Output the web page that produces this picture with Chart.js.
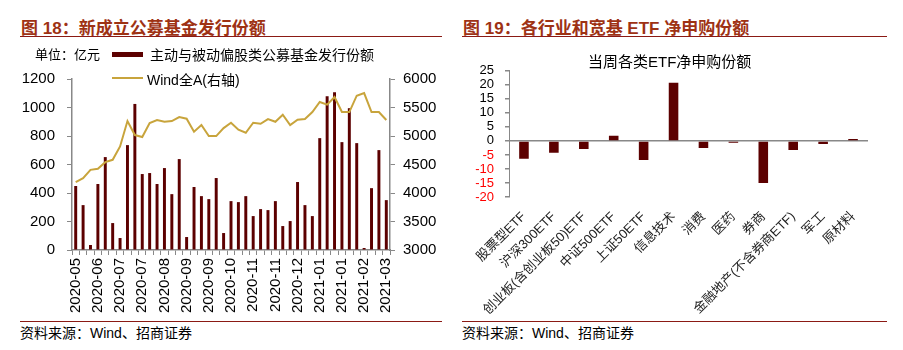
<!DOCTYPE html>
<html>
<head>
<meta charset="utf-8">
<script src="https://cdn.jsdelivr.net/npm/chart.js@4/dist/chart.umd.min.js"></script>
<style>
  body { margin: 0; width: 903px; height: 350px; background: #fff; position: relative; overflow: hidden;
         font-family: "Liberation Sans", "Noto Sans CJK SC", sans-serif; color: #000; }
  .title { position: absolute; top: 14px; font-size: 17px; font-weight: bold; color: #9E3214;
           font-family: "Liberation Sans", "Noto Sans CJK SC", sans-serif; white-space: nowrap; }
  .rule { position: absolute; height: 1px; background: #8B1A14; }
  .source { position: absolute; top: 322px; font-size: 14px; white-space: nowrap; }
  .legend { position: absolute; font-size: 14px; white-space: nowrap; }
  .swatch-bar { position: absolute; width: 31px; height: 5px; background: #5C0000; }
  .swatch-line { position: absolute; width: 31px; height: 2px; background: #C8A43C; }
  canvas { position: absolute; }
</style>
</head>
<body>
<canvas id="fund-chart" width="450" height="262" style="left:0; top:58px"></canvas>
<canvas id="etf-chart" width="440" height="268" style="left:450px; top:52px"></canvas>

<div class="title" style="left:21px">图 18：新成立公募基金发行份额</div>
<div class="rule" style="left:20px; top:36px; width:422px"></div>
<div class="legend" style="left:35px; top:44px; font-size:13px">单位：亿元</div>
<div class="swatch-bar" style="left:112px; top:52px"></div>
<div class="legend" style="left:150px; top:44px">主动与被动偏股类公募基金发行份额</div>
<div class="swatch-line" style="left:112px; top:77px"></div>
<div class="legend" style="left:147px; top:69px">Wind全A(右轴)</div>
<div class="rule" style="left:20px; top:321px; width:422px"></div>
<div class="source" style="left:20px">资料来源：Wind、招商证券</div>

<div class="title" style="left:463px">图 19：各行业和宽基 ETF 净申购份额</div>
<div class="rule" style="left:462px; top:36px; width:425px"></div>
<div class="legend" style="left:588px; top:50px; font-size:15px">当周各类ETF净申购份额</div>
<div class="rule" style="left:462px; top:321px; width:425px"></div>
<div class="source" style="left:462px">资料来源：Wind、招商证券</div>

<script>
// weekly, labelled by month (every 3rd shown on the axis)
const weeks = [
  '2020-05', '2020-05', '2020-06', '2020-06', '2020-06', '2020-06',
  '2020-07', '2020-07', '2020-07', '2020-07', '2020-07',
  '2020-08', '2020-08', '2020-08', '2020-08',
  '2020-09', '2020-09', '2020-09', '2020-09',
  '2020-10', '2020-10', '2020-10', '2020-10', '2020-10',
  '2020-11', '2020-11', '2020-11', '2020-11',
  '2020-12', '2020-12', '2020-12', '2020-12',
  '2021-01', '2021-01', '2021-01', '2021-01', '2021-01',
  '2021-02', '2021-02', '2021-02', '2021-02',
  '2021-03', '2021-03'
];

const fundIssue = [
  449, 315, 35, 463, 652, 189, 84, 736, 1025, 533, 540,
  463, 575, 392, 638, 91, 442, 378, 357, 505, 119, 343,
  336, 378, 238, 287, 280, 343, 168, 203, 477, 315, 238,
  785, 1079, 1107, 757, 995, 750, 14, 434, 701, 350
];

const windA = [
  4190, 4260, 4406, 4424, 4541, 4582, 4817, 5262, 5016, 4981, 5227,
  5280, 5250, 5262, 5332, 5303, 5074, 5192, 4998, 4998, 5139, 5233,
  5110, 5057, 5233, 5215, 5297, 5250, 5373, 5192, 5285, 5297, 5420,
  5596, 5549, 5684, 5420, 5420, 5707, 5754, 5420, 5420, 5280
];

const etfNames = [
  '股票型ETF', '沪深300ETF', '创业板(含创业板50)ETF', '中证500ETF', '上证50ETF',
  '信息技术', '消费', '医药', '券商', '金融地产(不含券商ETF)', '军工', '原材料'
];

const etfNetBuy = [-6.4, -4.2, -2.9, 1.8, -6.8, 20.7, -2.5, -0.7, -15.0, -3.2, -1.1, 0.7];

const BAR = '#5C0000';
const GOLD = '#C8A43C';
const AXIS = '#888888';
const NUM_FONT = '"Liberation Sans", "Noto Sans CJK SC", sans-serif';

Chart.defaults.color = '#000';
Chart.defaults.font.family = NUM_FONT;
Chart.defaults.animation = false;

const plain = v => String(v);

function renderFundChart() {
  new Chart(document.getElementById('fund-chart'), {
    type: 'bar',
    data: {
      labels: weeks,
      datasets: [{
        type: 'line',
        label: 'Wind全A(右轴)',
        data: windA,
        yAxisID: 'y1',
        borderColor: GOLD,
        borderWidth: 2,
        pointRadius: 0,
        tension: 0,
        order: 0
      }, {
        label: '主动与被动偏股类公募基金发行份额',
        data: fundIssue,
        yAxisID: 'y',
        backgroundColor: BAR,
        categoryPercentage: 1,
        barPercentage: 0.4,
        order: 1
      }]
    },
    options: {
      responsive: false,
      layout: { padding: 0 },
      plugins: { legend: { display: false }, tooltip: { enabled: false } },
      scales: {
        x: {
          grid: { color: 'transparent', tickColor: AXIS, tickLength: 5, drawOnChartArea: false },
          border: { color: AXIS, width: 1.5 },
          ticks: {
            autoSkip: false, minRotation: 90, maxRotation: 90, padding: 3,
            font: { size: 15 },
            callback: (v, i) => i % 3 === 0 ? weeks[i] : ''
          },
          afterFit: s => { s.height = 70; }
        },
        y: {
          position: 'left', min: 0, max: 1200,
          grid: { color: 'transparent', tickColor: AXIS, tickLength: 5, drawOnChartArea: false },
          border: { color: AXIS, width: 1.5 },
          ticks: { stepSize: 200, autoSkip: false, padding: 12, font: { size: 15 }, callback: plain },
          afterFit: s => { s.width = 72; }
        },
        y1: {
          position: 'right', min: 3000, max: 6000,
          grid: { color: 'transparent', tickColor: AXIS, tickLength: 5, drawOnChartArea: false },
          border: { color: AXIS, width: 1.5 },
          ticks: { stepSize: 500, autoSkip: false, padding: 8, font: { size: 15 }, callback: plain },
          afterFit: s => { s.width = 60; }
        }
      }
    }
  });
}

function renderEtfChart() {
  new Chart(document.getElementById('etf-chart'), {
    type: 'bar',
    data: {
      labels: etfNames,
      datasets: [{
        label: '当周各类ETF净申购份额',
        data: etfNetBuy,
        backgroundColor: BAR,
        categoryPercentage: 1,
        barPercentage: 0.32
      }]
    },
    options: {
      responsive: false,
      layout: { padding: { top: 0, left: 0, right: 22, bottom: 0 } },
      plugins: { legend: { display: false }, tooltip: { enabled: false } },
      scales: {
        x: {
          grid: { display: false },
          border: { display: false },
          ticks: {
            autoSkip: false, minRotation: 45, maxRotation: 45, padding: 4,
            font: { size: 13 }, color: '#222'
          },
          afterFit: s => { s.height = 123; }
        },
        y: {
          min: -20, max: 25,
          grid: {
            color: c => c.tick && c.tick.value === 0 ? AXIS : 'transparent',
            lineWidth: 1.5,
            tickColor: AXIS, tickLength: 4
          },
          border: { color: AXIS, width: 1 },
          ticks: {
            stepSize: 5, autoSkip: false, padding: 11, font: { size: 13 },
            color: c => c.tick.value < 0 ? '#FF0000' : '#000',
            callback: plain
          },
          afterFit: s => { s.width = 59; }
        }
      }
    }
  });
}

renderFundChart();
renderEtfChart();
</script>
</body>
</html>
